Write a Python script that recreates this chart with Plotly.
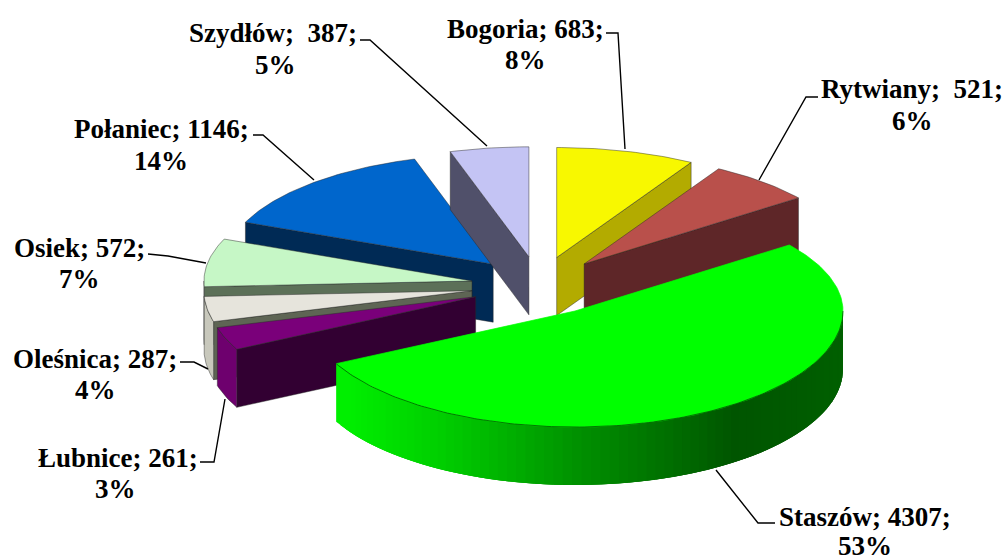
import math
import plotly.graph_objects as go

names = ["Bogoria", "Rytwiany", "Staszów", "Łubnice", "Oleśnica", "Osiek", "Połaniec", "Szydłów"]
values = [683, 521, 4307, 261, 287, 572, 1146, 387]
label_sep = [" ", "  ", " ", " ", " ", " ", " ", "  "]
percent_text = ["8%", "6%", "53%", "3%", "4%", "7%", "14%", "5%"]

top_colors = ["#F8F800", "#B9504B", "#00FF00", "#7A007A", "#E6E4DC", "#C6F7C6", "#0066CC", "#C4C4F4"]
face_colors = ["#B3AB00", "#5E2628", "#00A000", "#320032", "#5E6554", "#5C7058", "#002A55", "#50506A"]
outer_colors = ["#B3AB00", "#5E2628", "#00A000", "#6E006E", "#C8C8BC", "#B0D8B0", "#002A55", "#50506A"]
# Shading of Staszów's curved wall, left to right
wall_stops = [(335, (0, 240, 0)), (430, (0, 204, 0)), (560, (0, 144, 0)), (680, (0, 100, 0)),
              (720, (0, 85, 0)), (845, (0, 96, 0))]

draw_order = ["Połaniec", "Szydłów", "Bogoria", "Rytwiany", "Osiek", "Oleśnica", "Łubnice", "Staszów"]

label_line1 = {"Bogoria": (525, 29), "Rytwiany": (912, 89), "Staszów": (865, 517), "Łubnice": (118, 458),
               "Oleśnica": (95, 359), "Osiek": (79, 248), "Połaniec": (161, 129), "Szydłów": (273, 33)}
label_line2 = {"Bogoria": (525, 60), "Rytwiany": (912, 121), "Staszów": (865, 546), "Łubnice": (115, 489),
               "Oleśnica": (95, 390), "Osiek": (79, 279), "Połaniec": (161, 161), "Szydłów": (275, 65)}
leaders = {"Bogoria": [(606, 33), (618, 33), (625, 149)],
           "Rytwiany": [(818, 97), (806, 97), (759, 180)],
           "Staszów": [(775, 523), (758, 523), (716, 470)],
           "Łubnice": [(200, 462), (214, 462), (225, 399)],
           "Oleśnica": [(180, 362), (194, 362), (208, 369)],
           "Osiek": [(148, 254), (168, 256), (206, 263)],
           "Połaniec": [(253, 135), (263, 135), (314, 180)],
           "Szydłów": [(360, 40), (370, 40), (487, 146)]}

# Projection of the tilted, exploded pie onto the plot's pixel-like axes
CX, CY, RX, RY_BACK, RY_FRONT, DEPTH = 539, 286, 268, 110, 116, 58
EX, EY = 68, 29.5
total = sum(values)


def rim(apex, deg):
    a = math.radians(deg)
    c = math.cos(a)
    return apex[0] + RX * math.sin(a), apex[1] - (RY_BACK if c > 0 else RY_FRONT) * c


def arc(apex, d0, d1, step=1.0):
    n = max(2, int(abs(d1 - d0) / step) + 1)
    return [rim(apex, d0 + (d1 - d0) * i / (n - 1)) for i in range(n)]


def wall_color(x):
    for (x0, c0), (x1, c1) in zip(wall_stops, wall_stops[1:]):
        if x <= x1:
            t = max(0, (x - x0) / (x1 - x0))
            r = [round(p + (q - p) * t) for p, q in zip(c0, c1)]
            return f"rgb({r[0]},{r[1]},{r[2]})"
    return f"rgb{wall_stops[-1][1]}"


fig = go.Figure()


def poly(points, fill, line=None, width=0.7):
    xs = [p[0] for p in points] + [points[0][0]]
    ys = [p[1] for p in points] + [points[0][1]]
    fig.add_trace(go.Scatter(x=xs, y=ys, mode="lines", fill="toself", fillcolor=fill,
                             line=dict(color=line or fill, width=width),
                             hoverinfo="skip", showlegend=False))


def down(points):
    return [(x, y + DEPTH) for x, y in points]


spans = {}
acc = 0
for n, v in zip(names, values):
    spans[n] = (acc / total * 360, (acc + v) / total * 360)
    acc += v

EDGE = "rgba(40,40,40,0.65)"
for n in draw_order:
    i = names.index(n)
    d0, d1 = spans[n]
    mid = math.radians((d0 + d1) / 2)
    apex = (CX + EX * math.sin(mid), CY - EY * math.cos(mid))
    if math.sin(math.radians(d0)) < -1e-6:
        e = [apex, rim(apex, d0)]
        poly(e + down(e)[::-1], face_colors[i], EDGE)
    if math.sin(math.radians(d1)) > 1e-6:
        e = [apex, rim(apex, d1)]
        poly(e + down(e)[::-1], face_colors[i], EDGE)
    w0, w1 = max(d0, 90), min(d1, 270)
    if w1 > w0:
        if n == "Staszów":
            # overlapping strips, painted from the right end to the left end
            pts = arc(apex, w0, w1, 2.0)
            for k in range(len(pts) - 1):
                p, q = pts[k], pts[k + 1]
                r = pts[max(k - 2, 0)]
                chunk = [r, p, q]
                poly(chunk + down(chunk)[::-1], wall_color((p[0] + q[0]) / 2), None, 0)
        else:
            pts = arc(apex, w0, w1)
            poly(pts + down(pts)[::-1], outer_colors[i], EDGE)
    if n == "Staszów":
        poly([apex] + arc(apex, d0, d1), top_colors[i], None, 0.7)
        seam = arc(apex, w0, w1)
        fig.add_trace(go.Scatter(x=[p[0] for p in seam], y=[p[1] for p in seam], mode="lines",
                                 line=dict(color="rgba(0,50,0,0.8)", width=0.8),
                                 hoverinfo="skip", showlegend=False))
    else:
        poly([apex] + arc(apex, d0, d1), top_colors[i], EDGE)

annotations = []
FONT = dict(family="Liberation Serif", size=27, color="black")
for n, sep, v, pct in zip(names, label_sep, values, percent_text):
    xs = [p[0] for p in leaders[n]]
    ys = [p[1] for p in leaders[n]]
    fig.add_trace(go.Scatter(x=xs, y=ys, mode="lines", line=dict(color="black", width=1.4),
                             hoverinfo="skip", showlegend=False))
    x1, y1 = label_line1[n]
    x2, y2 = label_line2[n]
    annotations.append(dict(x=x1, y=y1, xref="x", yref="y", showarrow=False,
                            text=f"<b>{n};{sep}{v};</b>", font=FONT))
    annotations.append(dict(x=x2, y=y2, xref="x", yref="y", showarrow=False,
                            text=f"<b>{pct}</b>", font=FONT))

fig.update_layout(width=1002, height=558, margin=dict(l=0, r=0, t=0, b=0), showlegend=False,
                  paper_bgcolor="white", plot_bgcolor="white", annotations=annotations,
                  xaxis=dict(range=[0, 1002], visible=False, fixedrange=True),
                  yaxis=dict(range=[558, 0], visible=False, fixedrange=True))
fig.write_html("out.html", config={"displayModeBar": False},
               post_script="document.body.style.margin='0';document.body.style.overflow='hidden';")
